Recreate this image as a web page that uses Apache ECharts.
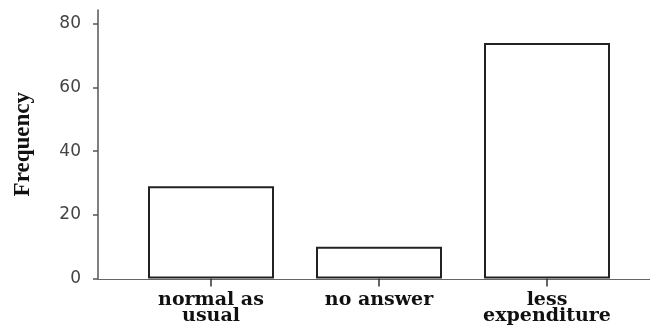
<!DOCTYPE html>
<html>
<head>
<meta charset="utf-8">
<script src="https://cdn.jsdelivr.net/npm/echarts@6/dist/echarts.min.js"></script>
<style>html,body{margin:0;padding:0;background:#fff;}#chart{width:650px;height:326px;}</style>
</head>
<body>
<div id="chart"></div>
<script>
var categories = ['normal as\nusual', 'no answer', 'less\nexpenditure'];
var frequency = [29, 10, 74];
var yTicks = [0, 20, 40, 60, 80];
var yAxisName = 'Frequency';

var chart = echarts.init(document.getElementById('chart'), null, {renderer: 'canvas'});
chart.setOption({
  animation: false,
  backgroundColor: '#ffffff',
  grid: [
    {left: 127, right: 19, top: 10, bottom: 47},
    {left: 98, right: 0, top: 10, bottom: 47}
  ],
  xAxis: [
    {
      type: 'category', gridIndex: 0, data: categories,
      axisLine: {show: false},
      axisTick: {show: true, alignWithLabel: true, length: 8, lineStyle: {color: '#333', width: 1.5}},
      axisLabel: {margin: 14, color: '#111', fontFamily: 'DejaVu Serif', fontWeight: 'bold', fontSize: 19, lineHeight: 16, interval: 0}
    },
    {
      type: 'value', gridIndex: 1, min: 0, max: 1,
      axisLine: {show: true, lineStyle: {color: '#666', width: 1.2}},
      axisTick: {show: false}, axisLabel: {show: false}, splitLine: {show: false}
    }
  ],
  yAxis: [
    {
      type: 'value', gridIndex: 0, min: 0, max: 84.4, interval: 20, offset: 29,
      name: yAxisName, nameLocation: 'middle', nameGap: 63, nameRotate: 90,
      nameTextStyle: {fontFamily: 'Liberation Serif', fontWeight: 'bold', fontSize: 23, color: '#111'},
      axisLine: {show: true, lineStyle: {color: '#555', width: 1.5}},
      axisTick: {show: true, length: 5, customValues: yTicks, lineStyle: {color: '#555', width: 1.5}},
      axisLabel: {margin: 17, customValues: yTicks, color: '#444', fontFamily: 'DejaVu Sans', fontSize: 17},
      splitLine: {show: false}
    },
    {
      type: 'value', gridIndex: 1, show: false, min: 0, max: 1
    }
  ],
  series: [{
    type: 'bar', xAxisIndex: 0, yAxisIndex: 0,
    data: frequency,
    barCategoryGap: '25%',
    itemStyle: {color: '#ffffff', borderColor: '#222', borderWidth: 2}
  }]
});
</script>
</body>
</html>
